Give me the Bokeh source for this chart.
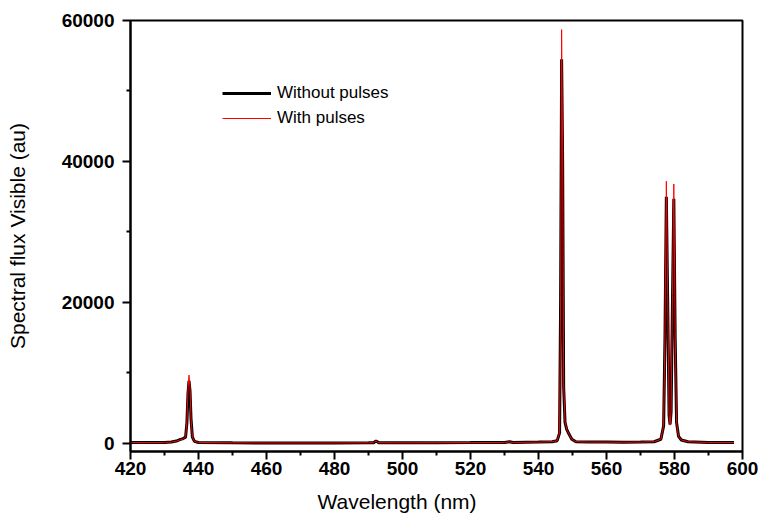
from bokeh.plotting import figure
from bokeh.models import FixedTicker, Range1d, Legend, LegendItem, Title
from bokeh.embed import file_html
from bokeh.resources import INLINE

# Wavelength samples (nm)
wavelength = [420, 425, 430, 432, 433.5, 434.5, 435.5, 436.2, 436.6, 436.9, 437.2, 437.5, 437.8, 438.2, 438.8,
              440, 450, 460, 470, 480, 490, 491.5, 492.2, 493, 500, 510, 520, 530, 531.5, 532.5, 540, 544,
              545.5, 546.2, 546.5, 546.8, 547.1, 547.4, 547.8, 548.3, 549, 549.8, 551, 555, 560, 565, 570,
              574, 576, 576.8, 577.2, 577.6, 578.0, 578.4, 578.7, 579.0, 579.4, 579.8, 580.2, 580.6, 581.2,
              582, 584, 590, 597.5]

# Spectral flux without pulses (au)
without_pulses = [150, 140, 150, 200, 350, 550, 700, 900, 3000, 7000, 8900, 7500, 3500, 900, 300,
                  150, 100, 80, 80, 80, 100, 120, 350, 120, 100, 120, 130, 150, 250, 150, 200, 250,
                  400, 1500, 20000, 54500, 40000, 8000, 3000, 2000, 1300, 600, 250, 200, 200, 180, 200,
                  250, 600, 2500, 15000, 35000, 20000, 4000, 2700, 4500, 20000, 34700, 15000, 3000, 1000,
                  500, 250, 150, 150]

# Spectral flux with pulses (au)
with_pulses = [150, 140, 150, 200, 330, 500, 650, 900, 3200, 7600, 9700, 8000, 3600, 900, 300,
               150, 100, 80, 80, 80, 100, 120, 330, 120, 100, 120, 130, 150, 230, 150, 200, 250,
               400, 1600, 21000, 58700, 42000, 8500, 3100, 2000, 1300, 600, 250, 200, 200, 180, 200,
               250, 600, 2600, 16000, 37200, 21000, 4000, 2600, 4600, 21000, 36800, 16000, 3000, 1000,
               500, 250, 150, 150]

x_ticks = [420, 440, 460, 480, 500, 520, 540, 560, 580, 600]
x_minor = [430, 450, 470, 490, 510, 530, 550, 570, 590]
y_ticks = [0, 20000, 40000, 60000]
y_minor = [10000, 30000, 50000]

FONT = "Liberation Sans"

p = figure(width=762, height=524, output_backend="svg", toolbar_location=None,
           x_range=Range1d(420, 600), y_range=Range1d(-1135, 60000),
           min_border_left=130, min_border_right=20, min_border_top=20, min_border_bottom=73)
p.grid.visible = False
p.outline_line_color = "black"
p.outline_line_width = 2

r1 = p.line(wavelength, without_pulses, line_color="black", line_width=3)
r2 = p.line(wavelength, with_pulses, line_color="#ff0000", line_width=1)

p.xaxis.ticker = FixedTicker(ticks=x_ticks, minor_ticks=x_minor)
p.yaxis.ticker = FixedTicker(ticks=y_ticks, minor_ticks=y_minor)

for ax in (p.xaxis[0], p.yaxis[0]):
    ax.axis_line_width = 2
    ax.major_tick_line_width = 2
    ax.minor_tick_line_width = 2
    ax.major_tick_in = 0
    ax.minor_tick_in = 0
    ax.major_tick_out = 8
    ax.minor_tick_out = 4
    ax.major_label_text_font = FONT
    ax.major_label_text_font_style = "bold"
    ax.major_label_text_font_size = "19px"
    ax.major_label_text_color = "black"
    ax.axis_label_text_font = FONT
    ax.axis_label_text_font_style = "normal"
    ax.axis_label_text_font_size = "21px"
    ax.axis_label_text_color = "black"

p.yaxis.axis_label = "Spectral flux Visible (au)"
p.xaxis.major_label_standoff = 2
p.yaxis.major_label_standoff = 8
p.yaxis.axis_label_standoff = 30

# x-axis title, set left of centre as in the original
x_title = Title(text="Wavelength (nm)", align="left", offset=187, standoff=21,
                text_font=FONT, text_font_size="21px", text_font_style="normal",
                text_color="black")
p.add_layout(x_title, "below")

legend = Legend(items=[LegendItem(label="Without pulses", renderers=[r1]),
                       LegendItem(label="With pulses", renderers=[r2])],
                location=(92, 322))
legend.border_line_color = None
legend.background_fill_alpha = 0
legend.padding = 0
legend.margin = 0
legend.spacing = 3
legend.glyph_width = 49
legend.glyph_height = 22
legend.label_height = 22
legend.label_standoff = 6
legend.label_text_font = FONT
legend.label_text_font_size = "17px"
legend.label_text_color = "black"
p.add_layout(legend, "center")

open("out.html", "w").write(file_html(p, INLINE))
